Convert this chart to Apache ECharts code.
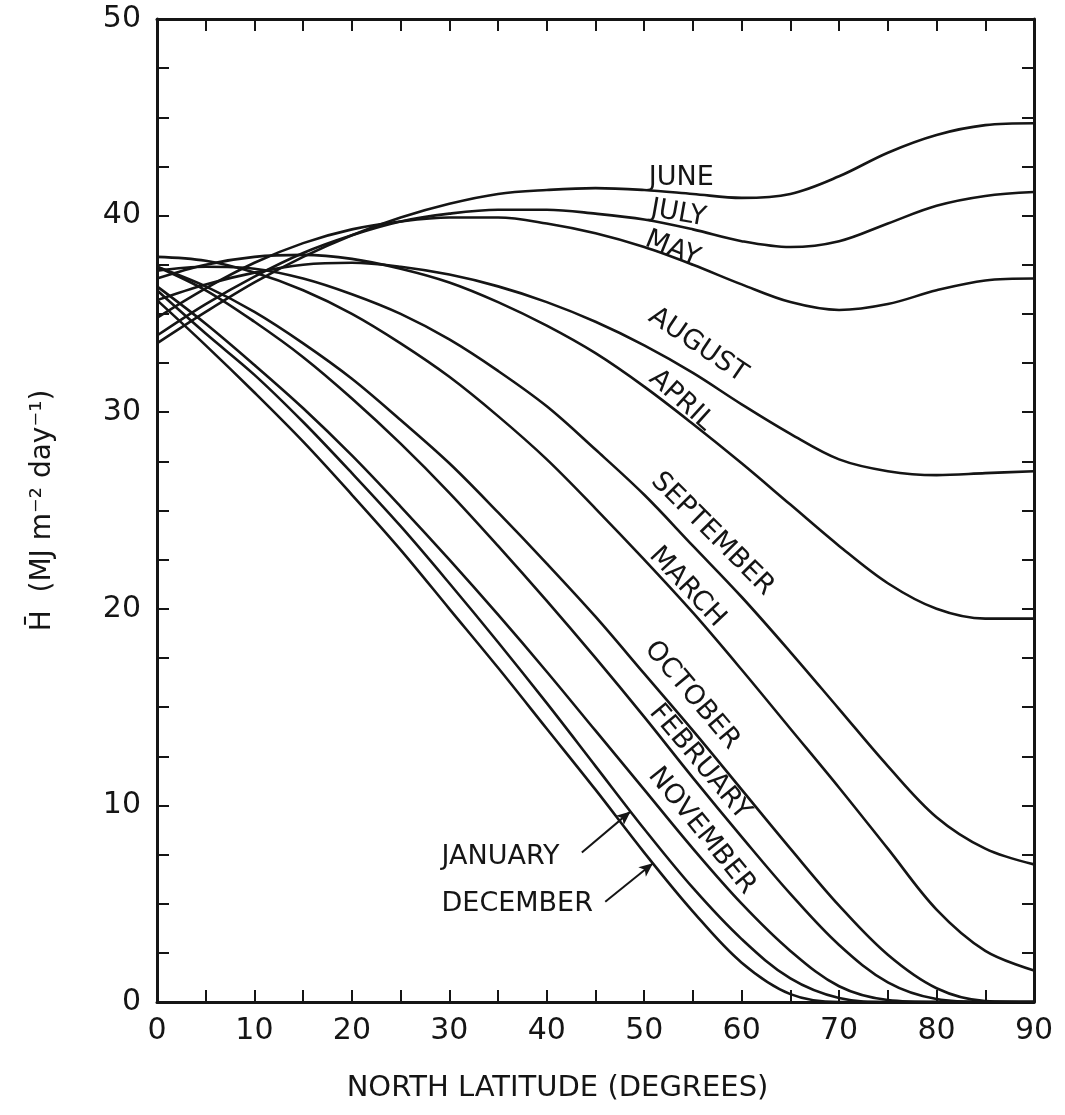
<!DOCTYPE html>
<html>
<head>
<meta charset="utf-8">
<script src="https://cdn.jsdelivr.net/npm/echarts@6/dist/echarts.min.js"></script>
<style>
  html, body { margin: 0; padding: 0; background: #fff; }
  #chart { width: 1065px; height: 1115px; }
</style>
</head>
<body>
<div id="chart"></div>
<script>
// latitude (degrees north) and monthly mean daily extraterrestrial radiation (MJ m-2 day-1)
const latitudes = [0, 5, 10, 15, 20, 25, 30, 35, 40, 45, 50, 55, 60, 65, 70, 75, 80, 85, 90];

const jan = [36.2, 34.0, 31.9, 29.5, 26.9, 24.2, 21.3, 18.3, 15.2, 12.0, 8.8, 5.8, 3.2, 1.2, 0.2, 0, 0, 0, 0];
const feb = [37.4, 36.2, 34.6, 32.8, 30.7, 28.4, 25.9, 23.2, 20.4, 17.5, 14.5, 11.4, 8.4, 5.5, 2.9, 1.0, 0.15, 0, 0];
const mar = [37.9, 37.7, 37.1, 36.2, 35.0, 33.5, 31.8, 29.8, 27.6, 25.1, 22.5, 19.8, 16.9, 13.9, 10.9, 7.8, 4.7, 2.6, 1.6];
const apr = [36.8, 37.5, 37.9, 38.0, 37.8, 37.3, 36.6, 35.6, 34.4, 33.0, 31.3, 29.4, 27.4, 25.3, 23.2, 21.3, 20.0, 19.5, 19.5];
const may = [34.8, 36.3, 37.6, 38.6, 39.3, 39.7, 39.9, 39.9, 39.6, 39.1, 38.4, 37.5, 36.5, 35.6, 35.2, 35.5, 36.2, 36.7, 36.8];
const jun = [33.5, 35.1, 36.6, 37.9, 39.0, 39.9, 40.6, 41.1, 41.3, 41.4, 41.3, 41.1, 40.9, 41.1, 42.0, 43.2, 44.1, 44.6, 44.7];
const jul = [33.9, 35.5, 36.9, 38.1, 39.0, 39.7, 40.1, 40.3, 40.3, 40.1, 39.8, 39.3, 38.7, 38.4, 38.7, 39.6, 40.5, 41.0, 41.2];
const aug = [35.7, 36.5, 37.1, 37.5, 37.6, 37.4, 37.0, 36.4, 35.6, 34.6, 33.4, 32.0, 30.4, 28.9, 27.6, 27.0, 26.8, 26.9, 27.0];
const sep = [37.2, 37.4, 37.3, 36.8, 36.0, 35.0, 33.7, 32.1, 30.3, 28.1, 25.8, 23.2, 20.6, 17.8, 14.9, 12.0, 9.4, 7.8, 7.0];
const oct = [37.4, 36.4, 35.1, 33.5, 31.7, 29.6, 27.4, 24.9, 22.3, 19.6, 16.7, 13.8, 10.8, 7.8, 4.9, 2.4, 0.7, 0.05, 0];
const nov = [36.4, 34.5, 32.4, 30.2, 27.8, 25.2, 22.5, 19.7, 16.8, 13.8, 10.8, 7.8, 5.0, 2.6, 0.8, 0.1, 0, 0, 0];
const dec = [35.7, 33.4, 31.0, 28.5, 25.8, 23.0, 20.0, 17.0, 13.9, 10.8, 7.6, 4.6, 2.0, 0.4, 0, 0, 0, 0, 0];

const monthNames = ['JANUARY', 'FEBRUARY', 'MARCH', 'APRIL', 'MAY', 'JUNE',
                    'JULY', 'AUGUST', 'SEPTEMBER', 'OCTOBER', 'NOVEMBER', 'DECEMBER'];
const monthData = [jan, feb, mar, apr, may, jun, jul, aug, sep, oct, nov, dec];

// curve labels: anchor [latitude, H] and text angle (degrees, clockwise)
const curveLabels = [
  { text: 'JUNE',      at: [53.8, 41.9], angle: 0 },
  { text: 'JULY',      at: [53.5, 40.1], angle: 10 },
  { text: 'MAY',       at: [52.9, 38.3], angle: 22 },
  { text: 'AUGUST',    at: [55.5, 33.4], angle: 34 },
  { text: 'APRIL',     at: [53.8, 30.6], angle: 42 },
  { text: 'SEPTEMBER', at: [57.0, 23.8], angle: 45 },
  { text: 'MARCH',     at: [54.4, 21.1], angle: 47 },
  { text: 'OCTOBER',   at: [54.9, 15.6], angle: 50 },
  { text: 'FEBRUARY',  at: [55.7, 12.2], angle: 50 },
  { text: 'NOVEMBER',  at: [55.9, 8.7],  angle: 51 }
];
// pointer labels: text start, arrow start and latitude where the arrow meets its curve
const pointerLabels = [
  { text: 'JANUARY',  month: 0,  at: [29.2, 7.4], from: [43.6, 7.6], toLat: 48.6 },
  { text: 'DECEMBER', month: 11, at: [29.2, 5.0], from: [46.0, 5.1], toLat: 50.9 }
];

function valueAt(arr, lat) {
  const i = Math.min(Math.floor(lat / 5), latitudes.length - 2);
  const t = (lat - latitudes[i]) / 5;
  return arr[i] + (arr[i + 1] - arr[i]) * t;
}

const ink = '#151515';
const font = '"DejaVu Sans", "Liberation Sans", sans-serif';

const chart = echarts.init(document.getElementById('chart'));

const series = monthData.map((arr, k) => ({
  name: monthNames[k],
  type: 'line',
  data: latitudes.map((x, i) => [x, arr[i]]),
  showSymbol: false,
  smooth: 0.35,
  silent: true,
  lineStyle: { color: ink, width: 2.6 }
}));

series.push({
  type: 'line',
  data: [],
  silent: true,
  markLine: {
    silent: true,
    symbol: ['none', 'arrow'],
    symbolSize: [9, 14],
    label: { show: false },
    lineStyle: { color: ink, width: 2, type: 'solid' },
    data: pointerLabels.map(p => [
      { coord: p.from },
      { coord: [p.toLat, valueAt(monthData[p.month], p.toLat)] }
    ])
  }
});

const tickStyle = { show: true, inside: true, length: 12, lineStyle: { color: ink, width: 2 } };
const frame = { show: true, onZero: false, lineStyle: { color: ink, width: 3 } };

chart.setOption({
  animation: false,
  backgroundColor: '#fff',
  grid: { left: 157, right: 31, top: 19, bottom: 113, containLabel: false },
  xAxis: [{
    type: 'value', min: 0, max: 90, interval: 5,
    axisLine: frame, axisTick: tickStyle, splitLine: { show: false },
    axisLabel: {
      color: ink, fontFamily: font, fontSize: 30, margin: 14,
      formatter: v => (v % 10 === 0 ? String(v) : '')
    },
    name: 'NORTH LATITUDE (DEGREES)', nameLocation: 'middle', nameGap: 72,
    nameTextStyle: { color: ink, fontFamily: font, fontSize: 29, padding: [0, 76, 0, 0] }
  }, {
    type: 'value', min: 0, max: 90, interval: 5, position: 'top',
    axisLine: frame, axisTick: tickStyle, axisLabel: { show: false }, splitLine: { show: false }
  }],
  yAxis: [{
    type: 'value', min: 0, max: 50, interval: 2.5,
    axisLine: frame, axisTick: tickStyle, splitLine: { show: false },
    axisLabel: {
      color: ink, fontFamily: font, fontSize: 30, margin: 16,
      formatter: v => (v % 10 === 0 ? String(v) : '')
    },
    name: 'H\u0304  (MJ m\u207B\u00B2 day\u207B\u00B9)', nameLocation: 'middle', nameGap: 100, nameRotate: 90,
    nameTextStyle: { color: ink, fontFamily: font, fontSize: 28 }
  }, {
    type: 'value', min: 0, max: 50, interval: 2.5, position: 'right',
    axisLine: frame, axisTick: tickStyle, axisLabel: { show: false }, splitLine: { show: false }
  }],
  series: series
});

const toPx = c => chart.convertToPixel({ xAxisIndex: 0, yAxisIndex: 0 }, c);

const graphics = curveLabels.map(l => {
  const p = toPx(l.at);
  return {
    type: 'text', x: p[0], y: p[1], rotation: -l.angle * Math.PI / 180, silent: true,
    style: { text: l.text, fill: ink, font: '27px ' + font, align: 'center', verticalAlign: 'middle' }
  };
}).concat(pointerLabels.map(l => {
  const p = toPx(l.at);
  return {
    type: 'text', x: p[0], y: p[1], silent: true,
    style: { text: l.text, fill: ink, font: '27px ' + font, align: 'left', verticalAlign: 'middle' }
  };
}));

chart.setOption({ graphic: graphics });
</script>
</body>
</html>
